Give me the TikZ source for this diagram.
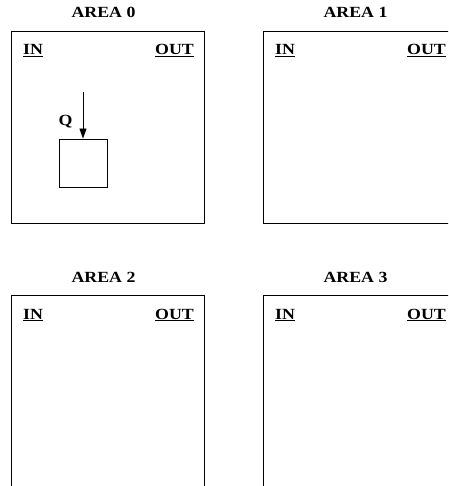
\documentclass[tikz,border=0pt]{standalone}
\usepackage{fontspec}
\setmainfont{Liberation Serif}[FakeStretch=1.15]
\usetikzlibrary{arrows.meta, positioning}

\begin{document}
\begin{tikzpicture}[x=1pt, y=-1pt,
    area/.style={rectangle, draw=black, line width=1pt, minimum width=193pt, minimum height=192pt, inner sep=0pt, anchor=north west},
    title/.style={font=\fontsize{15.5}{18}\selectfont\bfseries, anchor=base, inner sep=0pt},
    port/.style={font=\fontsize{15.5}{18}\selectfont\bfseries, inner sep=0pt},
    block/.style={rectangle, draw=black, line width=0.9pt, minimum size=48pt, inner sep=0pt},
    arr/.style={-{Triangle[length=10pt, width=7pt]}, draw=black, line width=0.9pt}
  ]
    \useasboundingbox (0,0) rectangle (448,486);
    \clip (0,0) rectangle (448,486);
    % the four areas
    \node[area] (a0) at (11, 31) {};
    \node[area] (a1) at (263, 31) {};
    \node[area] (a2) at (11, 295) {};
    \node[area] (a3) at (263, 295) {};
    \node[title] (t0) at (103.5, 18) {AREA 0};
    \node[title] (t1) at (355.5, 18) {AREA 1};
    \node[title] (t2) at (103.5, 282) {AREA 2};
    \node[title] (t3) at (355.5, 282) {AREA 3};
    % in / out labels
    \node[port, anchor=base west] (in0) at (23, 55) {\underline{IN}};
    \node[port, anchor=base east] (out0) at (194, 55) {\underline{OUT}};
    \node[port, anchor=base west] (in1) at (275, 55) {\underline{IN}};
    \node[port, anchor=base east] (out1) at (446, 55) {\underline{OUT}};
    \node[port, anchor=base west] (in2) at (23, 319) {\underline{IN}};
    \node[port, anchor=base east] (out2) at (194, 319) {\underline{OUT}};
    \node[port, anchor=base west] (in3) at (275, 319) {\underline{IN}};
    \node[port, anchor=base east] (out3) at (446, 319) {\underline{OUT}};
    % queue in area 0
    \node[block] (q) at (83, 163) {};
    \coordinate (qin) at (83, 92);
    \node[port, anchor=base] (qlabel) at (65.5, 126) {Q};
    \draw[arr] (qin) -- (q.north);
  \end{tikzpicture}
\end{document}
